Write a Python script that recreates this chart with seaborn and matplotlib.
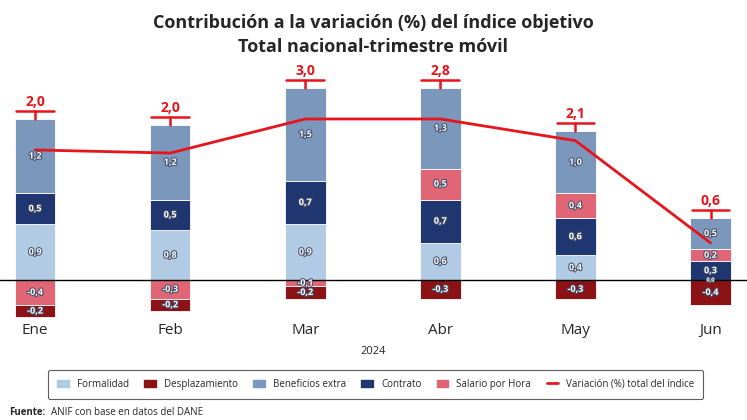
import numpy as np
import seaborn as sns
import matplotlib.pyplot as plt
import matplotlib.patheffects as pe

# %% data
meses = ["Ene", "Feb", "Mar", "Abr", "May", "Jun"]
formalidad = [0.9, 0.8, 0.9, 0.6, 0.4, 0.0]
contrato = [0.5, 0.5, 0.7, 0.7, 0.6, 0.3]
salario = [-0.4, -0.3, -0.1, 0.5, 0.4, 0.2]
beneficios = [1.2, 1.2, 1.5, 1.3, 1.0, 0.5]
desplazamiento = [-0.2, -0.2, -0.2, -0.3, -0.3, -0.4]
total = [2.0, 2.0, 3.0, 2.8, 2.1, 0.6]
linea = [2.1, 2.05, 2.6, 2.6, 2.25, 0.6]

series = [("Formalidad", formalidad, "#b0cbe3"),
          ("Desplazamiento", desplazamiento, "#8b1316"),
          ("Beneficios extra", beneficios, "#7b98bc"),
          ("Contrato", contrato, "#1f3670"),
          ("Salario por Hora", salario, "#e06575")]
stack_order = ["Formalidad", "Contrato", "Salario por Hora", "Beneficios extra", "Desplazamiento"]

# %%
sns.set_style("white")
plt.rcParams['font.family'] = ['Open Sans', 'DejaVu Sans']

fig = plt.figure(figsize=(7.47, 4.2), dpi=100)
ax = fig.add_axes([0, 1 - 320 / 420, 1, 245 / 420])
x = np.arange(len(meses))
w = 0.3
pos = np.zeros(len(meses))
neg = np.zeros(len(meses))
cols = {n: (v, c) for n, v, c in series}
for name in stack_order:
    vals, col = cols[name]
    vals = np.array(vals)
    base = np.where(vals >= 0, pos, neg)
    ax.bar(x, vals, w, bottom=base, color=col, edgecolor="white", linewidth=0.6)
    for xi, b, v in zip(x, base, vals):
        txt = f"{v:.1f}".replace(".", ",")
        ax.text(xi, b + v / 2, txt, ha="center", va="center", color="white",
                fontsize=6.5 if abs(v) >= 0.1 else 4, fontweight="bold",
                path_effects=[pe.withStroke(linewidth=1.5, foreground="#44506a")])
    pos = np.where(vals >= 0, pos + vals, pos)
    neg = np.where(vals < 0, neg + vals, neg)

# total markers
for xi, top, t in zip(x, pos, total):
    ax.plot([xi, xi], [top, top + 0.13], color="#e8141c", lw=1.8)
    ax.plot([xi - 0.14, xi + 0.14], [top + 0.13, top + 0.13], color="#e8141c", lw=1.8)
    ax.text(xi, top + 0.16, f"{t:.1f}".replace(".", ","), ha="center", va="bottom",
            color="#e8141c", fontsize=10, fontweight="bold")

sns.lineplot(x=x, y=linea, color="#e8141c", lw=2, ax=ax)
ax.axhline(0, color="black", lw=1)
ax.set_xlim(-0.26, 5.27)
ax.set_ylim(-0.645, 3.31)
ax.set_xticks(x)
ax.set_xticklabels(meses, fontsize=11)
ax.tick_params(axis="x", length=0, pad=2)
ax.set_yticks([])
for s in ax.spines.values():
    s.set_visible(False)
ax.set_xlabel("2024", fontsize=8, labelpad=6)

fig.text(0.5, 0.945, "Contribución a la variación (%) del índice objetivo",
         ha="center", va="center", fontsize=13, fontweight="bold")
fig.text(0.5, 0.888, "Total nacional-trimestre móvil",
         ha="center", va="center", fontsize=13, fontweight="bold")

# legend
handles = [plt.Rectangle((0, 0), 1, 1, color=c) for _, _, c in series]
handles.append(plt.Line2D([], [], color="#e8141c", lw=2))
labels = [n for n, _, _ in series] + ["Variación (%) total del índice"]
leg = fig.legend(handles, labels, loc="center", bbox_to_anchor=(0.503, 0.085),
                 ncol=6, fontsize=7, frameon=True, handlelength=1.2,
                 columnspacing=1.6, borderpad=0.9, fancybox=True)
leg.get_frame().set_edgecolor("#333333")
leg.get_frame().set_linewidth(0.8)

fig.text(0.012, 0.018, "Fuente:", fontsize=7, fontweight="bold", va="center")
fig.text(0.068, 0.018, "ANIF con base en datos del DANE", fontsize=7, va="center")

fig.savefig("out.png", dpi=100)
